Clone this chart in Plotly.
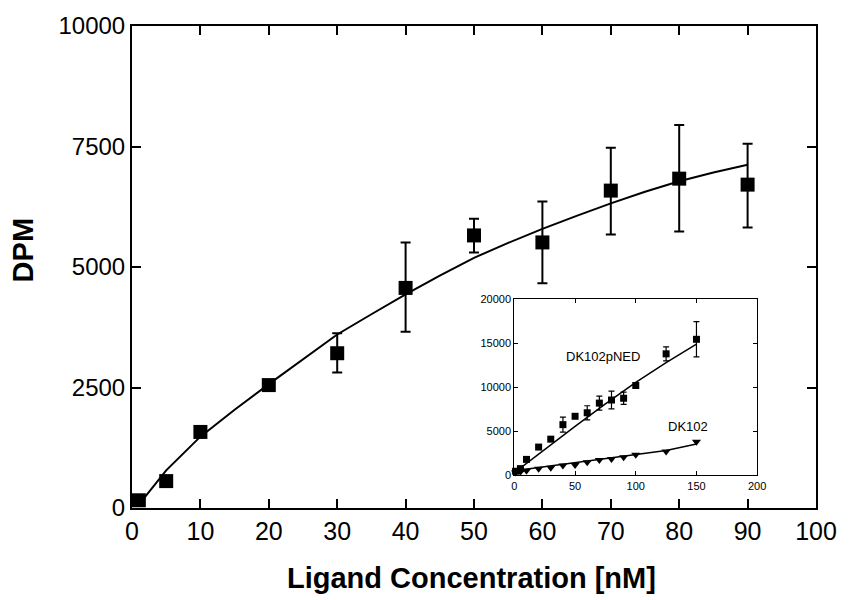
import plotly.graph_objects as go

# ---- main panel data ----
conc = [1, 5, 10, 20, 30, 40, 50, 60, 70, 80, 90]
dpm = [160, 558, 1578, 2550, 3211, 4566, 5655, 5510, 6585, 6833, 6709]
err_plus = [0, 0, 0, 0, 413, 944, 347, 847, 888, 1115, 847]
err_minus = [0, 0, 0, 0, 401, 909, 355, 847, 909, 1095, 889]

fit_x = [1.5, 5, 10, 15, 20, 25, 30, 35, 40, 45, 50, 55, 60, 65, 70, 75, 80, 85, 90]
fit_y = [160, 780, 1480, 2040, 2570, 3090, 3600, 4020, 4430, 4820, 5190, 5500, 5790, 6060, 6320, 6560, 6780, 6960, 7120]

# ---- inset data ----
ins_x = [1, 5, 10, 20, 30, 40, 50, 60, 70, 80, 90, 100, 125, 150]
pned_y = [450, 750, 1800, 3200, 4100, 5750, 6700, 7100, 8200, 8550, 8750, 10200, 13800, 15450]
pned_err = [0, 0, 0, 0, 0, 850, 0, 800, 800, 1000, 700, 0, 800, 2000]
dk_y = [300, 400, 500, 740, 850, 1110, 1150, 1480, 1740, 1850, 2040, 2330, 2700, 3810]

pned_fit_x = [0, 25, 50, 75, 100, 125, 150]
pned_fit_y = [300, 2950, 5560, 8100, 10560, 12800, 14900]
dk_fit_x = [0, 25, 50, 75, 100, 125, 150]
dk_fit_y = [500, 950, 1400, 1850, 2350, 2800, 3550]

main_xticks = [0, 10, 20, 30, 40, 50, 60, 70, 80, 90, 100]
main_yticks = [0, 2500, 5000, 7500, 10000]
main_yticktext = ["0", "2500", "5000", "7500", "10000"]
ins_xticks = [0, 50, 100, 150, 200]
ins_yticks = [0, 5000, 10000, 15000, 20000]
ins_yticktext = ["0", "5000", "10000", "15000", "20000"]

FONT = "Liberation Sans, Arial, sans-serif"

fig = go.Figure()

fig.add_trace(go.Scatter(x=fit_x, y=fit_y, mode="lines",
                         line=dict(color="black", width=2), cliponaxis=False,
                         showlegend=False, xaxis="x", yaxis="y"))
fig.add_trace(go.Scatter(x=conc, y=dpm, mode="markers",
                         marker=dict(symbol="square", size=14, color="black"),
                         error_y=dict(type="data", array=err_plus, arrayminus=err_minus,
                                      color="black", thickness=2, width=5),
                         cliponaxis=False, showlegend=False, xaxis="x", yaxis="y"))

# inset
fig.add_trace(go.Scatter(x=pned_fit_x, y=pned_fit_y, mode="lines",
                         line=dict(color="black", width=1.5), showlegend=False,
                         xaxis="x2", yaxis="y2"))
fig.add_trace(go.Scatter(x=dk_fit_x, y=dk_fit_y, mode="lines",
                         line=dict(color="black", width=1.5), showlegend=False,
                         xaxis="x2", yaxis="y2"))
fig.add_trace(go.Scatter(x=ins_x, y=pned_y, mode="markers",
                         marker=dict(symbol="square", size=7, color="black"),
                         error_y=dict(type="data", array=pned_err, color="black",
                                      thickness=1.2, width=3),
                         cliponaxis=False, showlegend=False, xaxis="x2", yaxis="y2"))
fig.add_trace(go.Scatter(x=ins_x, y=dk_y, mode="markers",
                         marker=dict(symbol="triangle-down", size=8, color="black"),
                         cliponaxis=False, showlegend=False, xaxis="x2", yaxis="y2"))

axis_common = dict(showgrid=False, zeroline=False, showline=True, linecolor="black",
                   mirror="ticks", ticks="inside", tickcolor="black")

fig.update_layout(
    width=849, height=600,
    margin=dict(l=132, r=28, t=23, b=92),
    paper_bgcolor="white", plot_bgcolor="white",
    font=dict(family=FONT, color="black"),
    xaxis=dict(**axis_common, range=[0, 100], tickvals=main_xticks,
               ticktext=[str(v) for v in main_xticks],
               linewidth=2, ticklen=9, tickwidth=1.5,
               tickfont=dict(size=25, family=FONT, color="black"), domain=[0, 1]),
    yaxis=dict(**axis_common, range=[0, 10000], tickvals=main_yticks,
               ticktext=main_yticktext,
               linewidth=2, ticklen=9, tickwidth=1.5,
               tickfont=dict(size=24, family=FONT, color="black"), domain=[0, 1]),
    xaxis2=dict(**axis_common, range=[0, 200], tickvals=ins_xticks,
                ticktext=[str(v) for v in ins_xticks],
                linewidth=1.2, ticklen=4, tickwidth=1,
                tickfont=dict(size=11, family=FONT, color="black"),
                domain=[0.559, 0.914], anchor="y2"),
    yaxis2=dict(**axis_common, range=[0, 20000], tickvals=ins_yticks,
                ticktext=ins_yticktext,
                linewidth=1.2, ticklen=4, tickwidth=1,
                tickfont=dict(size=11, family=FONT, color="black"),
                domain=[0.068, 0.433], anchor="x2"),
    annotations=[
        dict(text="<b>Ligand Concentration [nM]</b>", xref="paper", yref="paper",
             x=0.496, y=-0.146, xanchor="center", yanchor="middle", showarrow=False,
             font=dict(size=29, family=FONT)),
        dict(text="<b>DPM</b>", xref="paper", yref="paper", textangle=-90,
             x=-0.1597, y=0.534, xanchor="center", yanchor="middle", showarrow=False,
             font=dict(size=29, family=FONT)),
        dict(text="DK102pNED", xref="x2", yref="y2", x=73, y=13520,
             xanchor="center", yanchor="middle", showarrow=False,
             font=dict(size=13, family=FONT)),
        dict(text="DK102", xref="x2", yref="y2", x=143, y=5560,
             xanchor="center", yanchor="middle", showarrow=False,
             font=dict(size=13, family=FONT)),
    ],
)

fig.write_html("out.html")
